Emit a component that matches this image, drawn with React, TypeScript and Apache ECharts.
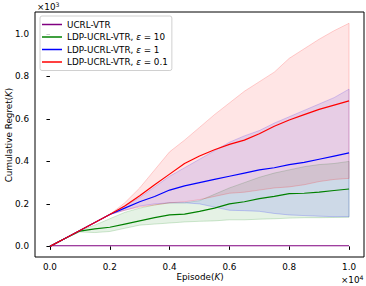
import React, { useEffect, useRef } from "react";
import * as echarts from "echarts";

const episodes = [0, 500, 1000, 1500, 2000, 2500, 3000, 3500, 4000, 4500, 5000, 5500, 6000, 6500, 7000, 7500, 8000, 8500, 9000, 9500, 10000];

const ucrlMean = [3, 3, 3, 3, 3, 3, 3, 3, 3, 3, 3, 3, 3, 3, 3, 3, 3, 3, 3, 3, 3];

const eps10Mean = [0, 37, 72, 82, 90, 105, 120, 135, 148, 152, 165, 180, 200, 210, 225, 235, 248, 250, 255, 263, 270];
const eps10Upper = [0, 37, 75, 100, 130, 160, 180, 195, 205, 205, 215, 245, 275, 300, 325, 345, 360, 375, 385, 390, 400];
const eps10Lower = [0, 37, 68, 65, 70, 85, 100, 105, 110, 115, 118, 120, 125, 125, 128, 130, 133, 135, 135, 136, 137];

const eps1Mean = [0, 37, 75, 112, 150, 180, 210, 235, 265, 285, 300, 315, 330, 345, 360, 370, 385, 395, 410, 425, 440];
const eps1Upper = [0, 37, 75, 112, 150, 190, 230, 280, 330, 370, 410, 450, 490, 520, 545, 580, 610, 640, 670, 700, 740];
const eps1Lower = [0, 37, 75, 112, 150, 170, 190, 200, 205, 205, 200, 185, 170, 168, 165, 155, 148, 145, 142, 140, 140];

const eps01Mean = [0, 37, 75, 112, 150, 190, 238, 290, 340, 390, 425, 455, 480, 500, 530, 565, 595, 620, 645, 665, 685];
const eps01Upper = [0, 37, 75, 112, 150, 205, 275, 360, 445, 500, 560, 620, 675, 730, 775, 820, 885, 930, 975, 1015, 1050];
const eps01Lower = [0, 37, 75, 112, 150, 170, 185, 195, 205, 210, 220, 235, 250, 255, 265, 275, 280, 290, 305, 315, 320];

const xTicks = [0, 2000, 4000, 6000, 8000, 10000];
const yTicks = [0, 200, 400, 600, 800, 1000];

const seriesNames = ["UCRL-VTR", "LDP-UCRL-VTR, ε = 10", "LDP-UCRL-VTR, ε = 1", "LDP-UCRL-VTR, ε = 0.1"];
const colors = ["#800080", "#008000", "#0000ff", "#ff0000"];
const rgbs = ["128,0,128", "0,128,0", "0,0,255", "255,0,0"];

const FONT = "DejaVu Sans";
const FS = 8.8;

function pairs(ys: number[]) {
  return episodes.map((x, i) => [x, ys[i]]);
}

function band(name: string, upper: number[], lower: number[], rgb: string, z: number) {
  return {
    type: "custom",
    name: name + " band",
    data: [[0, 0]],
    clip: true,
    silent: true,
    z,
    renderItem: (_params: any, api: any) => {
      const pts: number[][] = [];
      episodes.forEach((x, i) => pts.push(api.coord([x, upper[i]])));
      for (let i = episodes.length - 1; i >= 0; i--) pts.push(api.coord([episodes[i], lower[i]]));
      return {
        type: "polygon",
        shape: { points: pts },
        style: { fill: `rgba(${rgb},0.1)`, stroke: `rgba(${rgb},0.18)`, lineWidth: 1 },
      };
    },
  };
}

function line(idx: number, ys: number[], z: number) {
  return {
    type: "line",
    name: seriesNames[idx],
    data: pairs(ys),
    showSymbol: false,
    symbol: "none",
    z,
    lineStyle: { color: colors[idx], width: 1.2 },
    itemStyle: { color: colors[idx] },
  };
}

export default function App() {
  const ref = useRef<HTMLDivElement>(null);
  useEffect(() => {
    if (!ref.current) return;
    const chart = echarts.init(ref.current, undefined, { renderer: "svg" });
    const option: any = {
      animation: false,
      backgroundColor: "#fff",
      grid: { left: 35, top: 12, right: 2, bottom: 29, show: true, borderColor: "#000", borderWidth: 1, backgroundColor: "transparent" },
      xAxis: {
        type: "value",
        min: -500,
        max: 10500,
        axisLine: { show: false },
        splitLine: { show: false },
        axisTick: { show: true, inside: false, length: 3.5, customValues: xTicks, lineStyle: { color: "#000" } },
        axisLabel: {
          customValues: xTicks,
          color: "#000",
          fontSize: FS,
          fontFamily: FONT,
          margin: 5,
          formatter: (v: number) => (v / 10000).toFixed(1),
        },
      },
      yAxis: {
        type: "value",
        min: -50,
        max: 1103,
        axisLine: { show: false },
        splitLine: { show: false },
        axisTick: { show: true, inside: false, length: 3.5, customValues: yTicks, lineStyle: { color: "#000" } },
        axisLabel: {
          customValues: yTicks,
          color: "#000",
          fontSize: FS,
          fontFamily: FONT,
          margin: 6,
          formatter: (v: number) => (v / 1000).toFixed(1),
        },
      },
      legend: {
        data: seriesNames,
        orient: "vertical",
        left: 40,
        top: 16,
        itemWidth: 20,
        itemHeight: 1.5,
        itemGap: 3.5,
        icon: "rect",
        padding: [4, 4, 4, 2],
        borderColor: "#d0d0d0",
        borderWidth: 1,
        borderRadius: 2,
        backgroundColor: "rgba(255,255,255,0.8)",
        textStyle: {
          color: "#000",
          fontSize: FS,
          fontFamily: FONT,
          rich: { i: { fontStyle: "italic", fontSize: FS, fontFamily: FONT, color: "#000" } },
        },
        formatter: (n: string) => n.replace("ε", "{i|ε}"),
      },
      graphic: [
        {
          type: "text",
          x: 37,
          y: 7,
          style: {
            text: "×10{s|3}",
            fontSize: FS,
            fontFamily: FONT,
            fill: "#000",
            verticalAlign: "middle",
            rich: { s: { fontSize: 6.2, fontFamily: FONT, verticalAlign: "top", padding: [0, 0, 5, 0] } },
          },
        },
        {
          type: "text",
          x: 341,
          y: 280,
          style: {
            text: "×10{s|4}",
            fontSize: FS,
            fontFamily: FONT,
            fill: "#000",
            verticalAlign: "middle",
            rich: { s: { fontSize: 6.2, fontFamily: FONT, verticalAlign: "top", padding: [0, 0, 5, 0] } },
          },
        },
        {
          type: "text",
          x: 200,
          y: 277,
          style: {
            text: "Episode({i|K})",
            fontSize: FS,
            fontFamily: FONT,
            fill: "#000",
            align: "center",
            verticalAlign: "middle",
            rich: { i: { fontStyle: "italic", fontSize: FS, fontFamily: FONT } },
          },
        },
        {
          type: "text",
          x: 9,
          y: 135,
          rotation: Math.PI / 2,
          style: {
            text: "Cumulative Regret({i|K})",
            fontSize: FS,
            fontFamily: FONT,
            fill: "#000",
            align: "center",
            verticalAlign: "middle",
            rich: { i: { fontStyle: "italic", fontSize: FS, fontFamily: FONT } },
          },
        },
      ],
      series: [
        line(0, ucrlMean, 2),
        band(seriesNames[1], eps10Upper, eps10Lower, rgbs[1], 1),
        line(1, eps10Mean, 3),
        band(seriesNames[2], eps1Upper, eps1Lower, rgbs[2], 1),
        line(2, eps1Mean, 4),
        band(seriesNames[3], eps01Upper, eps01Lower, rgbs[3], 1),
        line(3, eps01Mean, 5),
      ],
    };
    chart.setOption(option);
    return () => chart.dispose();
  }, []);
  return <div ref={ref} style={{ width: 366, height: 286, position: "absolute", left: 0, top: 0 }} />;
}
